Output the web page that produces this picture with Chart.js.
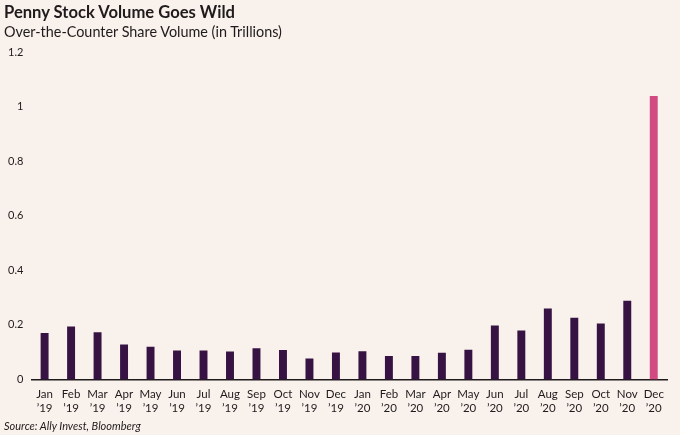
<!DOCTYPE html>
<html>
<head>
<meta charset="utf-8">
<script src="https://cdn.jsdelivr.net/npm/chart.js@4"></script>
<style>
  body { margin: 0; background: #f9f2ec; font-family: Lato, sans-serif; color: #1f1a1c; }
  #wrap { position: relative; width: 680px; height: 435px; overflow: hidden; }
  #titulo { position: absolute; left: 4px; top: 2px; font-weight: 700; font-size: 16.6px; }
  #subtitulo { position: absolute; left: 4px; top: 23px; font-size: 14.4px; }
  #fonte { position: absolute; left: 4px; top: 419px; font-size: 11px; font-style: italic; font-weight: 400; }
  #grafico-box { position: absolute; left: 0; top: 0; width: 680px; height: 423px; }
</style>
</head>
<body>
<div id="wrap">
  <div id="grafico-box"><canvas id="volumeChart"></canvas></div>
  <div id="titulo">Penny Stock Volume Goes Wild</div>
  <div id="subtitulo">Over-the-Counter Share Volume (in Trillions)</div>
  <div id="fonte">Source: Ally Invest, Bloomberg</div>
</div>
<script>
// Meses (rótulos do eixo x)
const meses = ['Jan', 'Feb', 'Mar', 'Apr', 'May', 'Jun', 'Jul', 'Aug', 'Sep', 'Oct', 'Nov', 'Dec'];
const anos = ['\u201919', '\u201920'];

// Volume OTC em trilhões de ações
const volume2019 = [0.170, 0.194, 0.173, 0.128, 0.120, 0.106, 0.106, 0.102, 0.114, 0.108, 0.077, 0.099];
const volume2020 = [0.103, 0.086, 0.086, 0.098, 0.109, 0.198, 0.179, 0.260, 0.226, 0.205, 0.288, 1.039];

const yTicks = [0, 0.2, 0.4, 0.6, 0.8, 1, 1.2];

const labels = [];
anos.forEach(a => meses.forEach(m => labels.push([m, a])));
const valores = volume2019.concat(volume2020);
const cores = valores.map((v, i) => i === valores.length - 1 ? '#d14b82' : '#361343');

const ctx = document.getElementById('volumeChart').getContext('2d');
new Chart(ctx, {
  type: 'bar',
  data: {
    labels: labels,
    datasets: [{
      data: valores,
      backgroundColor: cores,
      barPercentage: 0.6,
      categoryPercentage: 0.5
    }]
  },
  options: {
    responsive: true,
    maintainAspectRatio: false,
    animation: false,
    layout: { padding: { top: 52, left: 0, right: 13, bottom: 0 } },
    plugins: {
      legend: { display: false },
      tooltip: { enabled: false }
    },
    scales: {
      x: {
        grid: { display: false, drawTicks: false },
        border: { display: true, color: '#1f1a1c', width: 1.5 },
        ticks: {
          color: '#1f1a1c',
          font: { family: 'Lato', size: 11.5 },
          padding: 8,
          maxRotation: 0,
          autoSkip: false
        }
      },
      y: {
        min: 0,
        max: 1.2,
        afterBuildTicks: axis => { axis.ticks = yTicks.map(v => ({ value: v })); },
        grid: { display: false, drawTicks: false },
        border: { display: false },
        ticks: {
          color: '#1f1a1c',
          font: { family: 'Lato', size: 11 },
          padding: 8,
          callback: v => String(Math.round(v * 10) / 10)
        }
      }
    }
  }
});
</script>
</body>
</html>
